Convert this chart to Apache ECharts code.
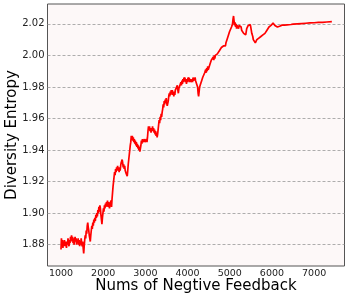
<!DOCTYPE html>
<html>
<head>
<meta charset="utf-8">
<script src="https://cdn.jsdelivr.net/npm/echarts@6/dist/echarts.min.js"></script>
<style>
html,body{margin:0;padding:0;background:#fff;}
#chart{width:349px;height:300px;}
</style>
</head>
<body>
<div id="chart"></div>
<script>
// x values: number of negative feedback
var feedbackCounts = [
1000,1010,1022,1034,1046,1058,1070,1082,1094,1106,1118,1130,1142,1154,1166,1178,1190,1202,1214,1226,1238,1250,1262,1274,1286,1298,1310,1322,1334,1346,1358,1370,1382,1394,1406,1418,1430,1442,1454,1466,1478,1490,1502,1514,1526,1538,1550,1562,1574,1586,1598,1610,1622,1634,1646,1658,1670,1682,1694,1706,1718,1730,1742,1754,1766,1778,1790,1802,1814,1826,1838,1850,1862,1874,1886,1898,1910,1922,1934,1946,1958,1970,1982,1994,
2006,2018,2030,2042,2054,2066,2078,2090,2102,2114,2126,2138,2150,2162,2174,2186,2198,2210,2222,2234,2246,2258,2270,2282,2294,2306,2318,2330,2342,2354,2366,2378,2390,2402,2414,2426,2438,2450,2462,2474,2486,2498,2510,2522,2534,2546,2558,2570,2582,2594,2606,2618,2630,2642,2654,2666,2678,2690,2702,2714,2726,2738,2750,2762,2774,2786,2798,2810,2822,2834,2846,2858,2870,2882,2894,2906,2918,2930,2942,2954,2966,2978,2990,
3002,3014,3026,3038,3050,3062,3074,3086,3098,3110,3122,3134,3146,3158,3170,3182,3194,3206,3218,3230,3242,3254,3266,3278,3290,3302,3314,3326,3338,3350,3362,3374,3386,3398,3410,3422,3434,3446,3458,3470,3482,3494,3506,3518,3530,3542,3554,3566,3578,3590,3602,3614,3626,3638,3650,3662,3674,3686,3698,3710,3722,3734,3746,3758,3770,3782,3794,3806,3818,3830,3842,3854,3866,3878,3890,3902,3914,3926,3938,3950,3962,3974,3986,3998,
4010,4022,4034,4046,4058,4070,4082,4094,4106,4118,4130,4142,4154,4166,4178,4190,4202,4214,4226,4238,4250,4262,4274,4286,4298,4310,4322,4334,4346,4358,4370,4382,4394,4406,4418,4430,4442,4454,4466,4478,4490,4502,4514,4526,4538,4550,4562,4574,4586,4598,4610,4622,4634,4646,4658,4670,4682,4694,4706,4718,4730,4742,4754,4766,4778,4790,4802,4814,4826,4838,4850,4862,4874,4886,4898,4910,4922,4934,4946,4958,4970,4982,4994,
5006,5018,5030,5042,5054,5066,5078,5090,5102,5114,5126,5138,5150,5162,5174,5186,5198,5210,5222,5234,5246,5258,5270,5282,5294,5306,5318,5330,5342,5354,5366,5378,5390,5402,5414,5426,5438,5450,5462,5474,5486,5498,5510,5522,5534,5546,5558,5570,5582,5594,5606,5618,5630,5642,5654,5666,5678,5690,5702,5714,5726,5738,5750,5762,5774,5786,5798,5810,5822,5834,5846,5858,5870,5882,5894,5906,5918,5930,5942,5954,5966,5978,5990,
6002,6014,6026,6040,6055,6070,6085,6100,6115,6130,6145,6160,6180,6200,6220,6240,6260,6280,6300,6330,6360,6400,6450,6500,6600,6700,6800,6900,7000,7100,7200,7300,7420
];
// y values: diversity entropy
var diversityEntropy = [
1.877,1.884,1.881,1.883,1.878,1.882,1.880,1.883,1.879,1.882,1.880,1.878,1.882,1.880,1.884,1.881,1.879,1.883,1.881,1.885,1.882,1.886,1.883,1.885,1.881,1.884,1.880,1.883,1.885,1.882,1.884,1.880,1.883,1.881,1.884,1.880,1.883,1.879,1.882,1.880,1.884,1.881,1.879,1.882,1.878,1.8745,1.879,1.883,1.886,1.884,1.889,1.887,1.892,1.894,1.891,1.889,1.886,1.884,1.882,1.886,1.889,1.892,1.890,1.894,1.892,1.896,1.894,1.897,1.895,1.899,1.897,1.900,1.898,1.902,1.900,1.904,1.901,1.905,1.903,1.899,1.896,1.893,1.897,1.900,
1.903,1.901,1.905,1.903,1.906,1.904,1.907,1.905,1.908,1.904,1.907,1.905,1.903,1.906,1.905,1.908,1.904,1.909,1.913,1.917,1.920,1.923,1.926,1.924,1.928,1.926,1.929,1.927,1.930,1.927,1.929,1.926,1.929,1.927,1.930,1.932,1.931,1.934,1.932,1.929,1.931,1.928,1.930,1.927,1.928,1.925,1.926,1.9235,1.927,1.931,1.934,1.937,1.940,1.943,1.945,1.949,1.947,1.949,1.946,1.948,1.945,1.947,1.944,1.946,1.943,1.945,1.942,1.944,1.941,1.943,1.940,1.942,1.939,1.940,1.943,1.946,1.944,1.947,1.945,1.946,1.944,1.947,1.945,
1.946,1.944,1.947,1.945,1.948,1.952,1.955,1.953,1.955,1.952,1.954,1.951,1.954,1.952,1.955,1.952,1.954,1.951,1.953,1.950,1.952,1.949,1.951,1.948,1.950,1.953,1.956,1.959,1.957,1.961,1.959,1.963,1.961,1.964,1.966,1.969,1.967,1.971,1.969,1.972,1.970,1.973,1.970,1.968,1.967,1.971,1.974,1.976,1.974,1.977,1.975,1.978,1.976,1.978,1.975,1.977,1.974,1.977,1.975,1.978,1.977,1.979,1.978,1.981,1.978,1.976,1.979,1.978,1.981,1.980,1.983,1.981,1.984,1.982,1.985,1.983,1.986,1.984,1.986,1.983,1.985,1.982,1.985,1.983,
1.986,1.984,1.986,1.983,1.985,1.984,1.986,1.983,1.985,1.983,1.986,1.984,1.985,1.983,1.986,1.984,1.985,1.983,1.984,1.980,1.976,1.974,1.977,1.980,1.979,1.982,1.981,1.984,1.983,1.986,1.985,1.987,1.986,1.989,1.988,1.991,1.989,1.992,1.990,1.993,1.991,1.990,1.993,1.992,1.995,1.994,1.997,1.996,1.998,1.996,1.999,1.997,2.000,1.998,2.000,1.999,2.001,1.999,2.001,2.000,2.002,2.001,2.003,2.002,2.004,2.003,2.005,2.004,2.006,2.004,2.006,2.005,2.007,2.005,2.006,2.008,2.007,2.010,2.011,2.010,2.013,2.012,2.015,
2.014,2.016,2.015,2.018,2.017,2.020,2.023,2.025,2.022,2.019,2.021,2.018,2.020,2.017,2.019,2.018,2.020,2.017,2.019,2.018,2.020,2.0195,2.018,2.016,2.017,2.015,2.016,2.014,2.015,2.013,2.014,2.013,2.015,2.017,2.016,2.018,2.019,2.020,2.019,2.020,2.0195,2.018,2.016,2.014,2.013,2.012,2.010,2.011,2.009,2.010,2.008,2.009,2.008,2.010,2.009,2.011,2.010,2.011,2.010,2.011,2.010,2.012,2.011,2.012,2.011,2.013,2.012,2.013,2.012,2.014,2.013,2.015,2.014,2.016,2.015,2.017,2.016,2.018,2.017,2.019,2.018,2.019,2.020,
2.019,2.020,2.0205,2.0195,2.020,2.019,2.0185,2.018,2.019,2.018,2.0185,2.019,2.0185,2.019,2.0188,2.0192,2.019,2.0194,2.0192,2.0195,2.0194,2.0196,2.0196,2.0198,2.0200,2.0202,2.0204,2.0206,2.0207,2.0209,2.0210,2.0212,2.0214
];
var xTickValues = [1000, 2000, 3000, 4000, 5000, 6000, 7000];
var yTickValues = [1.88, 1.90, 1.92, 1.94, 1.96, 1.98, 2.00, 2.02];
var xAxisTitle = 'Nums of Negtive Feedback';
var yAxisTitle = 'Diversity Entropy';

var seriesData = feedbackCounts.map(function (x, i) { return [x, diversityEntropy[i]]; });

var chart = echarts.init(document.getElementById('chart'), null, {renderer: 'canvas'});
chart.setOption({
  animation: false,
  backgroundColor: '#ffffff',
  grid: {
    left: 47.5, top: 4, right: 4.5, bottom: 34,
    outerBoundsMode: 'none', containLabel: false,
    show: true, backgroundColor: '#fdf8f8', borderColor: '#555', borderWidth: 1
  },
  xAxis: {
    type: 'value', min: 680, max: 7720,
    name: xAxisTitle, nameLocation: 'middle', nameGap: 13, nameMoveOverlap: false,
    nameTextStyle: {fontFamily: 'DejaVu Sans', fontSize: 15, color: '#000'},
    axisLine: {show: false},
    axisTick: {show: false, customValues: xTickValues},
    axisLabel: {customValues: xTickValues, fontFamily: 'DejaVu Sans', fontSize: 9.5, color: '#222', margin: 3,
      formatter: function (v) { return String(v); }},
    splitLine: {show: false}
  },
  yAxis: {
    type: 'value', min: 1.8665, max: 2.0326,
    name: yAxisTitle, nameLocation: 'middle', nameGap: 28, nameMoveOverlap: false,
    nameTextStyle: {fontFamily: 'DejaVu Sans', fontSize: 15, color: '#000'},
    axisLine: {show: false},
    axisTick: {show: false, customValues: yTickValues},
    axisLabel: {customValues: yTickValues, fontFamily: 'DejaVu Sans', fontSize: 10, color: '#222', margin: 3,
      formatter: function (v) { return v.toFixed(2); }},
    splitLine: {show: false}
  },
  series: [{
    type: 'line',
    data: seriesData,
    showSymbol: false,
    symbol: 'none',
    lineStyle: {color: '#ff0000', width: 1.7},
    z: 3,
    markLine: {
      silent: true, symbol: 'none', label: {show: false},
      lineStyle: {color: '#999', type: [3, 2], width: 0.8},
      data: yTickValues.map(function (v) { return {yAxis: v}; }),
      z: 1
    }
  }]
});
</script>
</body>
</html>
